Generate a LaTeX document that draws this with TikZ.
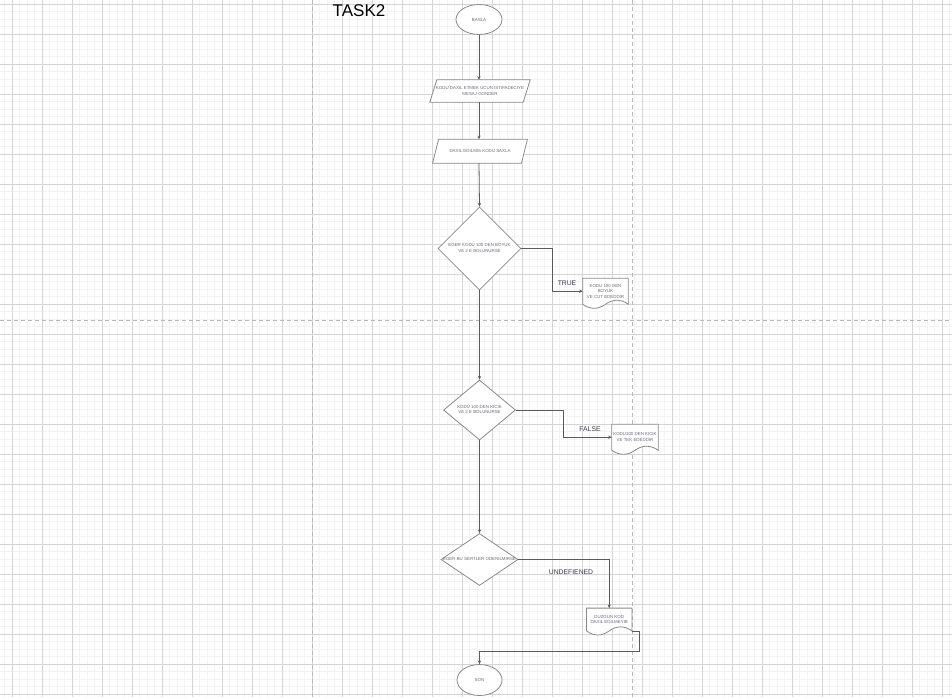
\documentclass[tikz,border=0pt]{standalone}
\usepackage{fontspec}
\setmainfont{Liberation Sans}
\usetikzlibrary{shapes.geometric,arrows.meta,calc}
\pgfdeclarelayer{bg}\pgfdeclarelayer{shp}
\pgfsetlayers{bg,shp,main}
\definecolor{majg}{HTML}{D4D4D4}
\definecolor{ming}{HTML}{F3F3F3}
\definecolor{pageln}{HTML}{B8B8B8}
\definecolor{outl}{HTML}{8A8A8A}
\definecolor{connc}{HTML}{5A5A5A}
\definecolor{txt}{HTML}{6A6A78}
\definecolor{lbl}{HTML}{3A3A4A}
\tikzset{
  tinytext/.style={font=\fontsize{4.4}{5.6}\selectfont, text=txt, align=center},
  ellbox/.style={ellipse, draw=outl, fill=white, line width=0.8pt, inner sep=0pt, tinytext},
  dia/.style={diamond, draw=outl, fill=white, line width=0.8pt, inner sep=0pt, tinytext},
  plainbox/.style={rectangle, inner sep=0pt, tinytext},
  outline/.style={draw=outl, fill=white, line width=0.8pt},
  conn/.style={draw=connc, line width=0.8pt, -{Stealth[length=3.6pt,width=3.2pt]}},
  lab/.style={font=\fontsize{6.8}{8}\selectfont, text=lbl},
  majorline/.style={draw=majg, line width=0.8pt},
  minorline/.style={draw=ming, line width=0.8pt},
  pageline/.style={draw=pageln, line width=1pt, dash pattern=on 4pt off 3pt},
}
\newcommand\paraoutline[2]{%
  \draw[outline] ($(#1.north west)+(#2,0)$) -- ($(#1.north east)+(#2,0)$) --
    ($(#1.south east)+(-#2,0)$) -- ($(#1.south west)+(-#2,0)$) -- cycle;}
\newcommand\docoutline[1]{%
  \draw[outline] (#1.north west) -- (#1.north east) -- (#1.south east)
    .. controls ($(#1.south east)+(-7.5,-5.4)$) and ($(#1.south)+(7.5,-5.4)$) .. (#1.south)
    .. controls ($(#1.south)+(-7.5,5.4)$) and ($(#1.south west)+(7.5,5.4)$) .. (#1.south west)
    -- cycle;}
\newcommand\nowidth[1]{\makebox[0pt]{\begin{tabular}{@{}c@{}}#1\end{tabular}}}
\begin{document}
\begin{tikzpicture}[x=1pt,y=-1pt]
\useasboundingbox (0,0) rectangle (952,697);
\begin{pgfonlayer}{bg}
  \fill[white] (0,0) rectangle (952,697);
  \foreach \i in {0,...,126} {\draw[minorline] ({4.8+7.5*\i},0) -- ({4.8+7.5*\i},697);}
  \foreach \i in {0,...,92} {\draw[minorline] (0,{4.3+7.5*\i}) -- (952,{4.3+7.5*\i});}
  \foreach \i in {0,...,31} {\draw[majorline] ({12.3+30*\i},0) -- ({12.3+30*\i},697);}
  \foreach \i in {0,...,23} {\draw[majorline] (0,{4.3+30*\i}) -- (952,{4.3+30*\i});}
  \draw[pageline] (312.5,0) -- (312.5,697);
  \draw[pageline] (632,0) -- (632,697);
  \draw[pageline] (0,320) -- (952,320);
\end{pgfonlayer}

\node[font=\fontsize{17}{20}\selectfont, text=black] (title) at (359,10.5) {TASK2};

\node[ellbox, minimum width=46pt, minimum height=30pt] (basla) at (479,19.5) {BASLA};
\node[plainbox, minimum width=93pt, minimum height=22pt] (p1) at (480,91)
  {KODU DAXIL ETMEK UCUN ISTIFADECIYE\\MESAJ GONDER};
\node[plainbox, minimum width=88.5pt, minimum height=23.5pt] (p2) at (480,151.2)
  {DAXIL EDILMIS KODU SAXLA};
\node[dia, minimum width=83pt, minimum height=83pt] (d1) at (479.5,248.5)
  {\nowidth{EGER KODU 100 DEN BOYUK\\VE 2 E BOLUNURSE}};
\node[plainbox, minimum width=45pt, minimum height=25.7pt] (doc1) at (605.5,291.2)
  {KODU 100 DEN\\BOYUK\\VE CUT EDEDDIR};
\node[dia, minimum width=72pt, minimum height=60pt] (d2) at (479.5,410)
  {\nowidth{KODU 100 DEN KICIK\\VE 2 E BOLUNURSE}};
\node[plainbox, minimum width=46pt, minimum height=25.7pt] (doc2) at (635,437.2)
  {KODU100 DEN KICIK\\VE TEK EDEDDIR};
\node[dia, minimum width=77pt, minimum height=52pt] (d3) at (479.5,559.5)
  {\nowidth{EGER BU SERTLER ODENILMIRSE}};
\node[plainbox, minimum width=45pt, minimum height=22.4pt] (doc3) at (609.2,619.5)
  {DUZGUN KOD\\DAXIL EDILMEYIB};
\node[ellbox, minimum width=45pt, minimum height=31pt] (son) at (479.5,680) {SON};

\begin{pgfonlayer}{shp}
  \paraoutline{p1}{3.5}
  \paraoutline{p2}{3}
  \docoutline{doc1}
  \docoutline{doc2}
  \docoutline{doc3}
\end{pgfonlayer}

\draw[conn] (basla.south) -- (basla.south |- p1.north);
\draw[conn] (p1.south -| basla.south) -- (basla.south |- p2.north);
\draw[conn] (p2.south -| basla.south) -- (d1.north);
\draw[conn] (d1.south) -- (d2.north);
\draw[conn] (d2.south) -- (d3.north);
\draw[conn] (d1.east) -| ($(d1.east)!0.5!(doc1.west)$) |- (doc1.west);
\draw[conn] (d2.east) -| ($(d2.east)!0.5!(doc2.west)$) |- (doc2.west);
\draw[conn] (d3.east) -| (doc3.north);
\coordinate (turn) at (639,651);
\draw[conn] (doc3.south east) -| (turn) -| (son.north);

\node[lab] (ltrue) at (567,283.5) {TRUE};
\node[lab] (lfalse) at (590,429.5) {FALSE};
\node[lab] (lundef) at (571,572.5) {UNDEFIENED};
\end{tikzpicture}
\end{document}
